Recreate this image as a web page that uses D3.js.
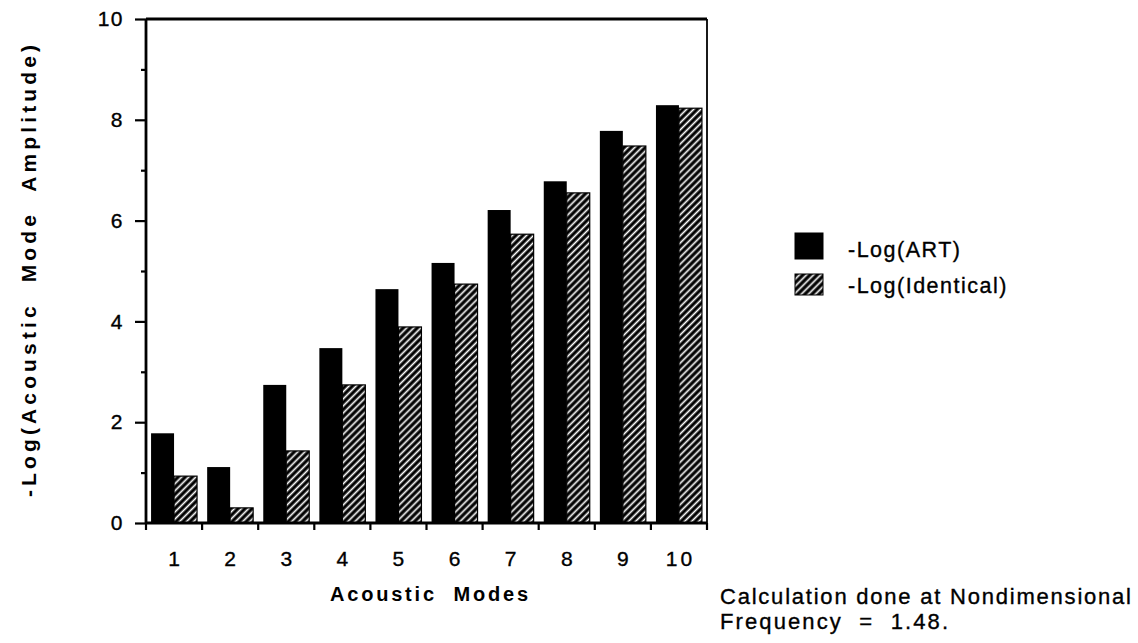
<!DOCTYPE html>
<html>
<head>
<meta charset="utf-8">
<script src="https://cdn.jsdelivr.net/npm/d3@7"></script>
<style>
  html, body { margin: 0; padding: 0; background: #fff; }
  svg { display: block; }
  text { font-family: "Liberation Sans", Arial, Helvetica, sans-serif; fill: #000; }
  .heavy { stroke: #000; stroke-width: 0.35px; }
</style>
</head>
<body>
<svg id="chart" width="1138" height="643"></svg>
<script>
const modes = ["1", "2", "3", "4", "5", "6", "7", "8", "9", "10"];
const seriesNames = ["-Log(ART)", "-Log(Identical)"];
const artValues = [1.78, 1.11, 2.74, 3.47, 4.64, 5.16, 6.21, 6.78, 7.78, 8.29];
const identicalValues = [0.93, 0.30, 1.43, 2.74, 3.89, 4.74, 5.73, 6.55, 7.48, 8.23];
const yMajorTicks = [0, 2, 4, 6, 8, 10];
const yMinorTicks = [1, 3, 5, 7, 9];
const xTitle = "Acoustic  Modes";
const yTitle = "-Log(Acoustic  Mode  Amplitude)";
const noteLines = ["Calculation done at Nondimensional", "Frequency  =  1.48."];

const svg = d3.select("#chart");
const pLeft = 146, pRight = 707, pTop = 19, pBottom = 523;

const defs = svg.append("defs");
const pat = defs.append("pattern")
  .attr("id", "hatch").attr("patternUnits", "userSpaceOnUse")
  .attr("width", 5).attr("height", 5)
  .attr("patternTransform", "rotate(45)");
pat.append("rect").attr("width", 5).attr("height", 5).attr("fill", "#000");
pat.append("line").attr("x1", 2.5).attr("y1", 0).attr("x2", 2.5).attr("y2", 5)
  .attr("stroke", "#fff").attr("stroke-width", 1.7);

const x0 = d3.scaleBand().domain(modes).range([pLeft, pRight]).padding(0);
const x1 = d3.scaleBand().domain(seriesNames).range([0, x0.bandwidth()]).paddingInner(0).paddingOuter(0.22);
const y = d3.scaleLinear().domain([0, 10]).range([pBottom, pTop]);

const rows = modes.map((m, i) => ({ mode: m, vals: [
  { s: seriesNames[0], v: artValues[i] },
  { s: seriesNames[1], v: identicalValues[i] }
]}));

const g = svg.append("g");
g.selectAll("g.grp").data(rows).join("g").attr("class", "grp")
  .attr("transform", d => `translate(${x0(d.mode)},0)`)
  .selectAll("rect").data(d => d.vals).join("rect")
  .attr("x", d => x1(d.s))
  .attr("y", d => y(d.v))
  .attr("width", x1.bandwidth())
  .attr("height", d => y(0) - y(d.v))
  .attr("fill", d => d.s === seriesNames[0] ? "#000" : "url(#hatch)")
  .attr("stroke", "#000")
  .attr("stroke-width", d => d.s === seriesNames[0] ? 0 : 1.2);

// frame
svg.append("line").attr("x1", pLeft).attr("x2", pRight).attr("y1", pTop).attr("y2", pTop)
  .attr("stroke", "#000").attr("stroke-width", 2.8);
svg.append("line").attr("x1", pRight).attr("x2", pRight).attr("y1", pTop).attr("y2", pBottom)
  .attr("stroke", "#000").attr("stroke-width", 1.8);

// y axis
const yAxis = d3.axisLeft(y).tickValues(yMajorTicks).tickSize(11).tickPadding(11).tickFormat(d3.format("d"));
const ya = svg.append("g").attr("transform", `translate(${pLeft},0)`).call(yAxis);
ya.attr("font-family", null);
ya.select(".domain").attr("stroke-width", 2.8).attr("d", `M0,${pTop}V${pBottom}`);
ya.selectAll(".tick line").attr("stroke-width", 2.2);
ya.selectAll(".tick text").attr("class", "heavy").style("font-size", "21px").style("letter-spacing", "1.5px");
const yMinor = d3.axisLeft(y).tickValues(yMinorTicks).tickSize(5).tickFormat("");
const ym = svg.append("g").attr("transform", `translate(${pLeft},0)`).call(yMinor);
ym.select(".domain").remove();
ym.selectAll(".tick line").attr("stroke-width", 2.2);

// x axis: ticks at category boundaries
const xa = svg.append("g").attr("transform", `translate(0,${pBottom})`);
xa.append("line").attr("x1", pLeft).attr("x2", pRight).attr("stroke", "#000").attr("stroke-width", 3);
const bounds = modes.map(m => x0(m)).concat([x0(modes[modes.length - 1]) + x0.bandwidth()]);
xa.selectAll("line.tk").data(bounds).join("line").attr("class", "tk")
  .attr("x1", d => d).attr("x2", d => d).attr("y1", 0).attr("y2", 7)
  .attr("stroke", "#000").attr("stroke-width", 2.2);
xa.selectAll("text").data(modes).join("text")
  .attr("class", "heavy")
  .attr("x", d => x0(d) + x0.bandwidth() / 2 + 1.5)
  .attr("y", 43)
  .attr("text-anchor", "middle")
  .style("font-size", "21px").style("letter-spacing", "3px")
  .text(d => d);

// axis titles
svg.append("text").attr("x", 330).attr("y", 601)
  .attr("textLength", 198).attr("lengthAdjust", "spacing")
  .style("font-size", "20px").style("font-weight", "bold")
  .style("white-space", "pre").text(xTitle);
svg.append("text").attr("transform", "translate(36,497) rotate(-90)")
  .attr("textLength", 452).attr("lengthAdjust", "spacing")
  .style("font-size", "21px").style("font-weight", "bold")
  .style("white-space", "pre").text(yTitle);

// legend
const legend = svg.append("g").attr("transform", "translate(795,0)");
const legBoxes = [{ y: 233, h: 26 }, { y: 274, h: 21 }];
const legBase = [257, 293];
seriesNames.forEach((s, i) => {
  legend.append("rect").attr("x", 0).attr("y", legBoxes[i].y).attr("width", 28).attr("height", legBoxes[i].h)
    .attr("fill", i === 0 ? "#000" : "url(#hatch)").attr("stroke", "#000").attr("stroke-width", 1);
  legend.append("text").attr("class", "heavy").attr("x", 53).attr("y", legBase[i])
    .style("font-size", "21.5px").style("letter-spacing", "1.5px").text(s);
});

// note
const noteLens = [411, 228];
noteLines.forEach((t, i) => {
  svg.append("text").attr("class", "heavy").attr("x", 720).attr("y", 604 + i * 25)
    .attr("textLength", noteLens[i]).attr("lengthAdjust", "spacing")
    .style("font-size", "22px").style("white-space", "pre").text(t);
});
</script>
</body>
</html>
